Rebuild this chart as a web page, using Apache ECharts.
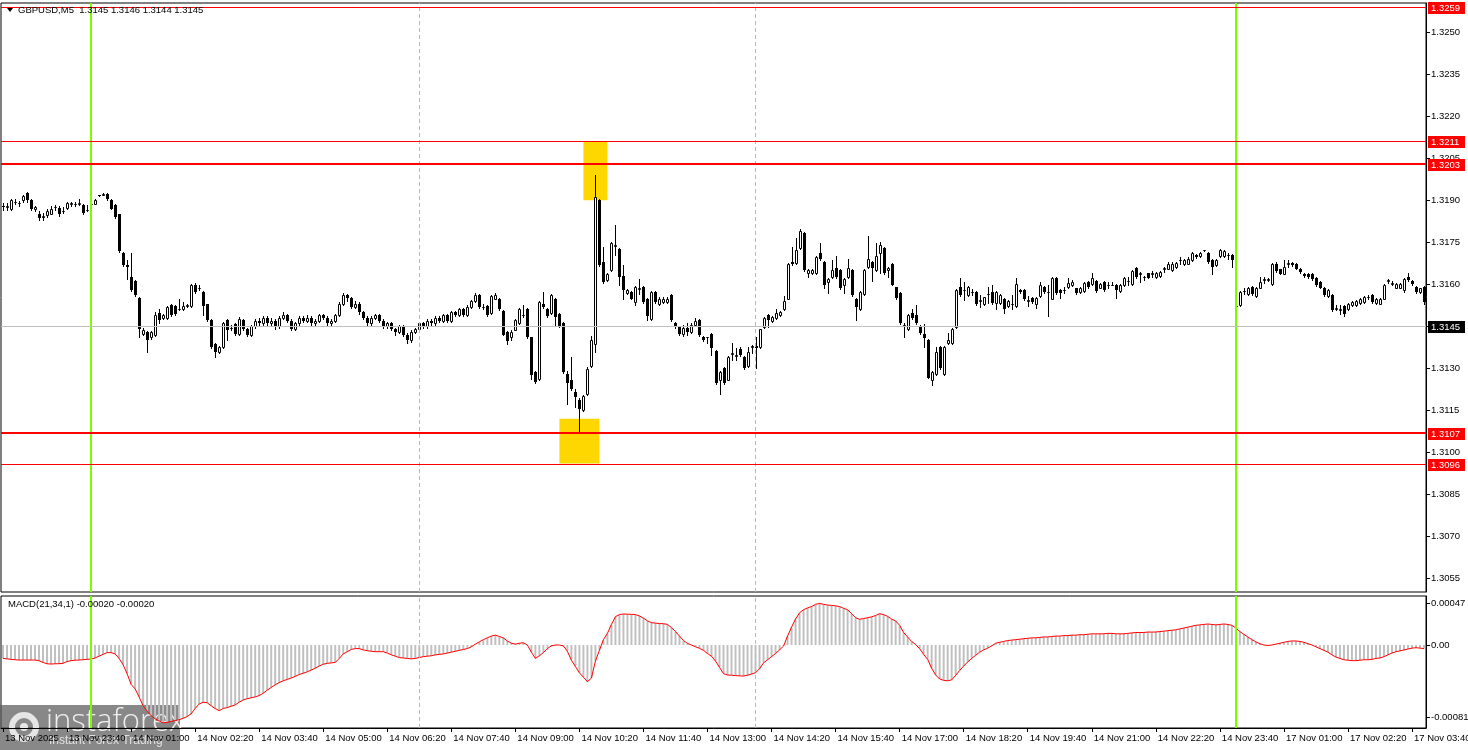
<!DOCTYPE html>
<html><head><meta charset="utf-8">
<script src="https://cdn.jsdelivr.net/npm/echarts@6/dist/echarts.min.js"></script>
<style>html,body{margin:0;padding:0;background:#fff}#c{width:1468px;height:750px}</style>
</head><body><div id="c"></div><script>
// GBPUSD M5 candles, fractional part in 1/10000 units above 1.0000 (3188 => 1.3188)
const OPEN = [
3188,3187.5,3187,3189.5,3189,3190,3192.5,3190,3187,3185.2,
3184,3184.6,3185.2,3187.5,3187.3,3186,3187.2,3188.5,3188.5,3188.6,
3188.3,3186.5,3188.5,3188.8,3191.8,3192,3192.2,3190,3188.3,3185,
3171,3167,3162.5,3161,3155.2,3142.3,3143,3141,3141.8,3149.8,
3147.8,3147.8,3152.5,3152.1,3151.3,3151,3152.2,3152.3,3159.8,3158.5,
3157.1,3152.8,3147.1,3138.8,3135.8,3137.6,3147.1,3144.5,3145.9,3142.4,
3147.1,3144.1,3142,3145,3147,3146,3148,3146,3147,3145,
3148,3149,3147,3144,3146,3148,3147,3148,3146,3147,
3149,3148,3146,3147,3149,3153,3156,3155,3152,3153,
3150,3148,3146,3148,3149,3147,3145,3146,3144,3143,
3145,3142,3140,3143,3144,3146,3145,3147,3146,3148,
3147,3149,3147,3150,3149,3151,3149,3152,3154,3156,
3152,3152.1,3149.8,3154.9,3154.9,3150.5,3143,3141,3143.8,3146,
3149,3151,3141,3128.7,3126.3,3153,3151.3,3149.8,3154.9,3149.3,
3146.2,3128,3125.9,3121.5,3118.8,3115,3121,3131,3138.8,3190,
3168,3161.7,3165,3173.8,3172.7,3162.8,3156.9,3157.3,3153.7,3158.4,
3159,3154.9,3147.7,3157.3,3152.9,3153.7,3153.7,3156,3146.2,3144.8,
3142.4,3144.5,3143,3145.5,3147.2,3141.2,3141,3142.4,3136.1,3125.8,
3130.2,3126,3135.2,3134.4,3137,3134.1,3130.8,3137.6,3137.9,3137.7,
3144.8,3149,3147,3147.8,3149,3151,3154.9,3168,3167.7,3172.8,
3178.4,3163.9,3163.9,3163.9,3171,3167.8,3160.9,3162.7,3165.9,3165.1,
3159.9,3162.7,3165.1,3154.9,3151,3156.5,3166.2,3168,3165.1,3171,
3172.8,3165.1,3167.1,3158.9,3157,3145.3,3143.9,3149.8,3149,3145,
3142.2,3140,3126,3127.9,3137.7,3127.9,3138.9,3138.9,3144.8,3159.1,
3157.8,3156.1,3157.2,3157.3,3154.2,3152.9,3156.4,3157.3,3153.2,3153.2,
3154.9,3152.2,3152.8,3152.2,3157.9,3157.9,3154.2,3155,3152.9,3155.8,
3159.1,3157.2,3154.9,3162.1,3157.9,3157.8,3159.1,3159.7,3158.5,3157.3,
3157.7,3160.9,3160,3161.2,3158.8,3160.9,3159.6,3159.7,3159.7,3157.7,
3159.7,3161.1,3160,3165.9,3163.8,3162.7,3163.9,3163.7,3162.6,3162.9,
3165.5,3165.6,3165,3166,3168.5,3167.2,3167.4,3168.6,3170.4,3170,
3172.2,3171.2,3168.8,3166.8,3170,3170,3170.3,3170.4,3152.2,3152.5,
3157.5,3156.5,3159.1,3155.7,3158.8,3161.6,3161.6,3160,3167.4,3165.3,
3163.8,3167.3,3167.6,3167.4,3165.6,3163.8,3163.8,3163.8,3162.4,3160.9,
3158.8,3155.7,3156.1,3151.2,3150.9,3152.2,3151,3152.5,3152.5,3153.4,
3153.7,3155.4,3156.1,3153.4,3153.1,3154.9,3161.3,3160.1,3158.8,3158.8,
3157.8,3162.6,3161.2,3159.1,3157.3,3159.1];
const CLOSE = [
3187.5,3188,3190,3189.5,3189.2,3191.7,3190,3187,3187.5,3183.5,
3184.5,3186.2,3187,3187.5,3185,3186.2,3189,3189,3188.5,3189,
3185.5,3186.5,3188.5,3190,3191.6,3192.2,3190.3,3187,3184,3172,
3166.8,3166,3157.9,3156,3144.2,3143.8,3140,3143,3149,3147.2,
3149,3151.9,3149,3149.5,3151.3,3152.3,3152.6,3159.8,3157.2,3158.5,
3152.1,3147.1,3137.6,3135.8,3137.6,3146,3143.5,3144.5,3142.4,3147.7,
3144.1,3141.8,3145,3147,3146,3148,3146,3147,3145,3148,
3149,3147,3144,3146,3148,3147,3148,3146,3147,3149,
3148,3146,3147,3149,3153,3156,3155,3152,3153,3150,
3148,3146,3148,3149,3147,3145,3146,3144,3143,3145,
3142,3140,3143,3144,3146,3145,3147,3146,3148,3147,
3149,3147,3150,3149,3151,3149,3152,3154,3156,3152,
3152,3148.9,3155.8,3156,3151,3142,3139.6,3143,3147.1,3151,
3149.2,3141,3127.5,3125.1,3153.7,3152,3148.6,3156,3148.3,3145,
3128.7,3124.8,3122.7,3119.8,3115.6,3120,3129.9,3140.2,3191,3166.8,
3160.8,3163.8,3174.8,3174,3162.6,3157.8,3157.8,3154.9,3159,3158.6,
3153.7,3148.6,3157.3,3153.7,3154.9,3154.9,3154.9,3147.1,3144.8,3142.4,
3144.5,3143,3145.5,3147,3141.8,3140,3141,3137.1,3124.8,3128.8,
3124.8,3134.1,3135.4,3134.6,3134.7,3130,3135.9,3137.8,3137.1,3143.9,
3147.8,3147.2,3148.2,3149.8,3150.2,3154,3167.1,3167.1,3172.2,3179,
3165.1,3165.1,3165.1,3169.8,3168.9,3159.9,3162,3165.1,3162.7,3158.7,
3162,3165.9,3156.1,3152,3157.3,3165.1,3168.9,3165.9,3170,3174,
3163.9,3165.9,3159.9,3155,3146,3145.5,3149,3147.8,3146,3142.7,
3140.7,3126.7,3128.8,3135.9,3130,3137.7,3140,3143.9,3157.9,3156.1,
3158,3159.1,3157.4,3152.9,3154.4,3155.3,3156.6,3153.4,3157.3,3156.1,
3151,3154,3153,3160,3157.3,3154.6,3154.4,3153.7,3155,3159.7,
3157.3,3157.4,3162.1,3157,3157,3158,3160.3,3160.9,3157,3158.8,
3160.3,3159.1,3162.1,3157.7,3160,3157.9,3159.8,3159.7,3157.9,3159.7,
3162.1,3161.3,3164.8,3162.7,3164,3162.7,3162.4,3163.9,3164.1,3164.4,
3165.7,3167.4,3167.4,3167.6,3168.7,3168.6,3169.2,3171,3169.8,3171,
3172.2,3168,3166,3168.8,3172.2,3171.9,3170.5,3168.6,3152.4,3157.3,
3157.7,3158.5,3156.5,3158.8,3160.9,3161.8,3161.8,3167.2,3164.8,3163.8,
3166,3167.5,3166.8,3165.6,3164.4,3162.9,3162.6,3162,3159.7,3158.8,
3156.1,3157.9,3150.7,3151.4,3151.1,3149.5,3153.1,3153.7,3154.1,3154.9,
3155.5,3155.6,3153.7,3154.9,3154.9,3159.7,3161.5,3160.3,3160.2,3160.2,
3161.8,3161.4,3160,3157.3,3158.5,3153.7];
const HIGH = [
3189,3189,3190.5,3190.5,3189.8,3192,3193,3190.5,3188,3186,
3185.5,3186.8,3188,3188.3,3188,3187.5,3189.5,3189.3,3189.5,3190.5,
3188.5,3188.3,3188.8,3190.5,3192,3192.5,3192.5,3190.3,3188.5,3185.2,
3171.5,3168.5,3171,3161.4,3155.5,3144.5,3143.3,3143.3,3150,3151.3,
3149.5,3152.3,3153,3152.5,3154.8,3153.5,3153,3160.2,3160.3,3159.6,
3157.5,3153,3147.5,3139,3138,3146.5,3147.7,3145.3,3146.3,3148.2,
3147.5,3144.5,3145.5,3147.5,3148,3148.5,3148.5,3147.8,3147.5,3148.5,
3150,3149.5,3147.5,3146.5,3148.5,3148.5,3149,3148.5,3147.5,3149.5,
3149.5,3148.5,3147.5,3149.5,3153.5,3157,3156.5,3155.5,3154,3153.5,
3150.5,3148.5,3148.5,3149.5,3149.5,3147.5,3146.5,3146.5,3144.5,3145.5,
3145.5,3142.5,3143.5,3144.5,3146.5,3146.5,3147.5,3147.5,3148.5,3148.5,
3149.5,3149.5,3150.5,3150.5,3151.5,3151.5,3152.5,3154.5,3157,3156.5,
3152.8,3152.5,3156.2,3156.8,3155.2,3150.8,3143.3,3143.5,3147.5,3151.4,
3152.5,3151.4,3141.2,3129,3154,3157.3,3151.6,3156.5,3155.2,3149.6,
3146.5,3129.2,3134,3122.7,3119.5,3120.5,3130.3,3141.5,3199,3190.5,
3173.3,3164.2,3175.2,3181,3173.1,3166.8,3158.3,3157.6,3159.4,3162,
3159.4,3155.2,3157.7,3157.7,3155.3,3155.3,3155.3,3156.4,3146.5,3145.2,
3145.5,3146,3146,3148,3147.5,3141.6,3141.3,3142.7,3136.4,3129.2,
3130.5,3134.5,3138.9,3137.1,3137.6,3134.4,3137.7,3138.3,3141.2,3144.2,
3148.2,3149.3,3148.6,3151,3150.6,3155.8,3167.5,3173.4,3176.4,3179.9,
3178.8,3165.5,3165.5,3170.2,3174.8,3168.2,3162.4,3168.6,3170,3165.5,
3162.4,3168.9,3165.5,3155.2,3157.7,3165.5,3177.2,3168.4,3174.8,3175.2,
3173.2,3166.3,3167.5,3159.2,3157.3,3146,3149.4,3151,3152.5,3145.4,
3145.8,3140.4,3129.2,3137.7,3138,3138,3142.7,3144.3,3158.3,3162.1,
3160.9,3159.5,3158.2,3157.6,3156.1,3155.6,3159.1,3159.7,3157.6,3156.5,
3155.2,3154.4,3156.1,3162.1,3158.3,3158.2,3155.8,3155.3,3155.3,3160.9,
3159.5,3159.7,3162.5,3162.5,3158.2,3159.1,3162.1,3161.5,3158.8,3159.2,
3160.7,3161.3,3164.1,3161.6,3160.4,3161.3,3160.9,3160.9,3160,3160.1,
3162.7,3162.7,3165.2,3166.3,3164.5,3163,3164.2,3164.8,3164.5,3164.8,
3166.2,3167.8,3167.8,3168,3169.8,3169,3169.6,3171.6,3170.8,3171.4,
3172.4,3171.6,3169.1,3169.2,3172.6,3172.3,3171,3170.8,3152.6,3157.7,
3158.5,3158.9,3159.4,3159.2,3162.6,3162.6,3162.4,3167.6,3167.8,3165.6,
3168.8,3168.8,3167.9,3167.7,3165.9,3164.1,3164.1,3164.1,3162.7,3161.2,
3159.1,3158.2,3156.4,3152.5,3152.5,3152.5,3153.4,3154,3154.4,3155.2,
3155.8,3156.2,3156.4,3155.2,3155.2,3160,3162,3161,3160.5,3160.5,
3162.3,3164,3161.5,3159.4,3158.8,3159.4];
const LOW = [
3186.5,3186.5,3186.5,3188.5,3188,3189.5,3189.5,3186.5,3186,3183,
3183,3184.2,3185,3186.5,3184.5,3185.5,3187,3188,3188,3188.3,
3185,3186,3188.2,3188.5,3191.5,3191.8,3190,3186.8,3183.5,3171.5,
3166.5,3162,3157.5,3155.8,3141.2,3142,3135.8,3140.5,3141.5,3146,
3147.5,3147.5,3148.5,3149.2,3150.7,3150.8,3152,3152,3157,3157.8,
3149,3147,3137.3,3134,3135.5,3137.3,3140.1,3143.8,3142,3142,
3143.8,3141.5,3141.5,3144.5,3145.5,3145.5,3145,3145.5,3144,3144.5,
3147.5,3146.5,3143.5,3143.5,3145.5,3146.5,3146.5,3145.5,3145.5,3146.5,
3147.5,3145.5,3145.5,3146.5,3148.5,3152.5,3154,3151.5,3151.5,3149.5,
3147.5,3145.5,3145.5,3147.5,3146.5,3144.5,3144.5,3143.5,3142,3142.5,
3141.5,3139,3139.5,3142.5,3143.5,3144.5,3144.5,3145.5,3145.5,3146.5,
3146.5,3146.5,3146.5,3148.5,3148.5,3148.5,3148.5,3151.5,3153.5,3151.5,
3151.3,3148.6,3149.5,3154.6,3150.8,3141.8,3138.8,3140,3143.5,3145.8,
3148.3,3140.8,3126.3,3124.8,3125.8,3151.6,3148.3,3149.5,3145.4,3144.6,
3128.3,3117.4,3122.4,3116.2,3107,3114.6,3120.6,3130.6,3135.8,3166.4,
3160.4,3161.3,3164.6,3170.4,3159.6,3154.9,3156.5,3154.6,3152.5,3156.6,
3153.4,3147.1,3147.4,3153.4,3152.6,3153.4,3153.4,3146.8,3144.5,3142,
3141.5,3142,3142.5,3145,3141.5,3139.7,3139,3134.7,3124.5,3121,
3124.5,3125.7,3133,3133,3134.3,3129.7,3130.5,3135.5,3130,3137.4,
3144.5,3144.8,3146.7,3147.5,3148.7,3150.7,3154.6,3166.8,3167.4,3172.5,
3164.8,3162.7,3163.6,3163.6,3168.6,3158.7,3157,3162.4,3162.4,3158.4,
3157,3162.4,3155.8,3147.2,3150.7,3156.2,3165.9,3161.1,3164.8,3163.9,
3163.6,3162.7,3159.6,3154.7,3145.7,3141.2,3143.6,3147.5,3145.7,3142.4,
3137.7,3126.4,3124,3127.6,3129.7,3127.6,3138.6,3138.6,3144.5,3155.8,
3154.3,3155.8,3156,3152.6,3152,3152.6,3153.4,3153.1,3151,3152.9,
3149.8,3151.9,3151,3151.9,3157,3154.3,3152.2,3153.4,3151.7,3155.5,
3157,3148.6,3154.6,3156.7,3155,3157,3158.8,3159.4,3156.7,3157,
3157.4,3158.8,3159.7,3157.4,3158.5,3157.6,3158.5,3159.6,3155,3157.4,
3159.4,3159.7,3159.7,3162.4,3160.9,3161.5,3162.1,3162.7,3162.3,3162.6,
3164.4,3165.3,3164.7,3165.7,3167.4,3166.9,3167.1,3168.3,3169.5,3169.7,
3172,3167.7,3163.8,3166.5,3169.7,3169.7,3169.2,3166,3152,3152.2,
3156.6,3156.2,3156.2,3155.4,3158.5,3160.3,3161,3159.7,3164.5,3163.5,
3163.5,3166.2,3166.5,3165.3,3164,3162.6,3162.3,3161.7,3159.4,3158.5,
3155.8,3155.4,3150.4,3150.7,3149.5,3148.6,3150.7,3152.2,3152.2,3153.1,
3153.4,3154.8,3153.4,3153.1,3152.8,3154.6,3160.3,3159.6,3158.5,3158.5,
3157.3,3161.1,3159.7,3157,3157,3152.9];
// MACD(21,34,1) main value per bar, in units of 0.00001
const MACD = [
-15,-15.5,-16,-16.5,-16.8,-16.8,-16.8,-16.8,-16.8,-17.5,
-19.5,-21,-21.3,-21,-20.9,-20.5,-18.5,-17.5,-17,-16.8,
-16.5,-16,-15.7,-14.5,-12.5,-10.5,-8.5,-8.5,-10,-15,
-22,-32,-44,-49,-58,-68,-74,-79,-82.5,-85,
-87,-86.5,-85.5,-84.5,-83.5,-82,-80,-77,-71,-66,
-64,-64.5,-68,-71,-73.5,-71,-70,-68.5,-67,-64,
-61.5,-60,-59,-58,-56.5,-54,-50.5,-47.5,-44.5,-42,
-40,-38.5,-37,-35,-33,-31.5,-30,-28,-26,-23.5,
-21.5,-20.5,-20,-19.5,-15,-10,-7.5,-5,-4,-4,
-5.5,-6.3,-7,-7.5,-7.5,-7.5,-9,-11,-12.5,-14,
-14.5,-15,-15.5,-15,-14,-13,-12.5,-12,-11,-10.5,
-10,-9,-8,-7,-6,-5,-4,-2,1,3.5,
6,8,10,11,9.5,8,4.5,2,1,2,
2.5,0,-8,-15,-12,-8.5,-4,-1,0,0,
-1,-7,-17,-24,-31,-36,-41,-37,-18,-6,
6,13,23,31.7,34,34.7,34.5,34.3,34,32.5,
30,27,25,24.5,24,23.8,23,19.5,15,10,
5,1.8,0,-2,-3.7,-6,-9.5,-12.5,-18,-25,
-32,-33.5,-33.8,-34.2,-34.5,-34.7,-33.8,-32.5,-31,-26.5,
-20,-16.5,-13,-9.5,-5.5,-1.1,10,20,29,36,
39.5,41.5,43,45.5,46.5,45.5,44.7,44.3,43.8,43,
41,39.5,35,30.5,28.7,29.6,30.5,31.5,33,35,
34,32,29,27,22,14,9,4,0.5,-4,
-10.5,-16,-26,-33.5,-38,-39.5,-40,-39,-34,-28.5,
-23.5,-19,-15,-11.5,-8,-5.5,-3.5,-1,2,3,
4,5,5.5,6,6.5,7,7.5,8,8,8.5,
9,9,9.5,10,10,10.5,10.5,11,11,11.5,
11.5,12,12.5,12.5,12.5,12.5,13,13,12.5,12.5,
12.5,13,13.5,14,14,14,14.5,14.5,14.5,15,
15.5,16,16.5,17,18,19,20,21,22,22.5,
23,23.5,23,22.5,23,23.5,23,22,19,15,
12,9,6,3.5,1.5,0,-0.5,0,1,2,
3,4,4.5,4.5,4,3,1.5,0,-2,-4,
-6,-8,-11,-13.5,-15,-16.5,-17,-17.5,-17.5,-17,
-16.5,-16.5,-16,-15,-14.5,-13,-11,-9,-7.5,-6.5,
-5.5,-4.5,-3.5,-3,-3.5,-4];
const TIME_LABELS = ['13 Nov 2025','13 Nov 23:40','14 Nov 01:00','14 Nov 02:20','14 Nov 03:40','14 Nov 05:00','14 Nov 06:20','14 Nov 07:40','14 Nov 09:00','14 Nov 10:20','14 Nov 11:40','14 Nov 13:00','14 Nov 14:20','14 Nov 15:40','14 Nov 17:00','14 Nov 18:20','14 Nov 19:40','14 Nov 21:00','14 Nov 22:20','14 Nov 23:40','17 Nov 01:00','17 Nov 02:20','17 Nov 03:40'];
const PRICE_TICKS = [1.3055,1.3070,1.3085,1.3100,1.3115,1.3130,1.3145,1.3160,1.3175,1.3190,1.3205,1.3220,1.3235,1.3250];
const MACD_TICKS = [0.00047, 0, -0.00081];
const LEVELS = [1.3259, 1.3211, 1.3203, 1.3107, 1.3096, 1.3145];
const SOLID_VLINES = [22, 308];
const DASHED_VLINES = [104, 188];
// yellow zones: [fromBar, toBar, lowPrice, highPrice]
const ZONES = [[145, 151, 1.3190, 1.3211], [139, 149, 1.3096, 1.3112]];
const TITLE = 'GBPUSD,M5  1.3145 1.3146 1.3144 1.3145';
const MACD_TITLE = 'MACD(21,34,1) -0.00020 -0.00020';

// styles (kept apart from data)
const LEVEL_STYLE = [
  {line: '#ff0000', width: 1, box: '#ff0000'},
  {line: '#ff0000', width: 1, box: '#ff0000'},
  {line: '#ff0000', width: 2, box: '#ff0000'},
  {line: '#ff0000', width: 2, box: '#ff0000'},
  {line: '#ff0000', width: 1, box: '#ff0000'},
  {line: '#c0c0c0', width: 1, box: '#000000'}
];
const FONT = '"Liberation Sans", Arial, sans-serif';
const FS = 9.5;
const cats = OPEN.map((_, i) => String(i));
const toP = v => +(1 + v / 10000).toFixed(5);
const candleData = OPEN.map((o, i) => [i, toP(o), toP(CLOSE[i]), toP(LOW[i]), toP(HIGH[i])]);
const macd = MACD.map(v => +(v * 1e-5).toFixed(7));
const isLabel = i => i % 16 === 0;

function renderCandle(params, api) {
  const i = api.value(0), o = api.value(1), c = api.value(2), lo = api.value(3), hi = api.value(4);
  const pO = api.coord([i, o]), pC = api.coord([i, c]), pL = api.coord([i, lo]), pH = api.coord([i, hi]);
  const x0 = Math.round(pO[0]);
  const top = Math.round(Math.min(pO[1], pC[1])), bot = Math.round(Math.max(pO[1], pC[1]));
  const yH = Math.round(pH[1]), yL = Math.round(pL[1]);
  const children = [{type: 'rect', shape: {x: x0, y: yH, width: 1, height: Math.max(yL - yH + 1, 1)}, style: {fill: '#000'}}];
  if (c >= o) {
    children.push({type: 'rect', shape: {x: x0 - 0.5, y: top + 0.5, width: 2, height: Math.max(bot - top, 0)}, style: {fill: '#fff', stroke: '#000', lineWidth: 1}});
  } else {
    children.push({type: 'rect', shape: {x: x0 - 1, y: top, width: 3, height: Math.max(bot - top, 1)}, style: {fill: '#000'}});
  }
  return {type: 'group', children};
}

function renderLevel(params, api) {
  const v = api.value(0);
  const cs = params.coordSys;
  const st = LEVEL_STYLE[params.dataIndex];
  const yr = Math.round(api.coord([0, v])[1]);
  const right = cs.x + cs.width;
  return {type: 'group', children: [
    {type: 'rect', shape: {x: cs.x, y: yr - (st.width === 2 ? 1 : 0), width: cs.width, height: st.width}, style: {fill: st.line}},
    {type: 'rect', shape: {x: right + 2, y: yr - 5, width: 37, height: 12}, style: {fill: st.box}},
    {type: 'text', x: right + 5, y: yr + 1, style: {text: v.toFixed(4), fill: '#fff', font: FS + 'px ' + FONT, verticalAlign: 'middle'}}
  ]};
}

const vlines = SOLID_VLINES.map(i => ({xAxis: String(i), lineStyle: {color: '#7CFC00', width: 2, type: 'solid'}}))
  .concat(DASHED_VLINES.map(i => ({xAxis: String(i), lineStyle: {color: '#7CFC00', width: 1, type: [4, 3]}})));

const chart = echarts.init(document.getElementById('c'), null, {renderer: 'canvas'});
chart.setOption({
  animation: false,
  backgroundColor: '#fff',
  textStyle: {fontFamily: FONT},
  grid: [
    {left: 1, right: 42, top: 3, height: 589, show: true, borderColor: '#000', borderWidth: 1, backgroundColor: '#fff', containLabel: false, outerBoundsMode: 'none'},
    {left: 1, right: 42, top: 596, height: 132, show: true, borderColor: '#000', borderWidth: 1, backgroundColor: '#fff', containLabel: false, outerBoundsMode: 'none'}
  ],
  xAxis: [
    {gridIndex: 0, type: 'category', data: cats, boundaryGap: true, axisLine: {show: false}, axisTick: {show: false}, axisLabel: {show: false}, splitLine: {show: false}},
    {gridIndex: 1, type: 'category', data: cats, boundaryGap: true,
      axisLine: {show: true, onZero: false, lineStyle: {color: '#000'}},
      axisTick: {show: true, alignWithLabel: true, interval: isLabel, length: 4, lineStyle: {color: '#000'}},
      axisLabel: {interval: isLabel, formatter: (v, i) => TIME_LABELS[i / 16] || '', align: 'left', margin: 5, fontSize: FS, color: '#000', fontFamily: FONT, padding: [0, 0, 0, 2]},
      splitLine: {show: false}}
  ],
  yAxis: [
    {gridIndex: 0, type: 'value', position: 'right', min: 1.305011, max: 1.326046, splitLine: {show: false},
      axisLine: {show: true, lineStyle: {color: '#000'}},
      axisTick: {show: true, length: 4, customValues: PRICE_TICKS, lineStyle: {color: '#000'}},
      axisLabel: {customValues: PRICE_TICKS, formatter: v => v.toFixed(4), color: '#000', fontSize: FS, fontFamily: FONT, margin: 5}},
    {gridIndex: 1, type: 'value', position: 'right', min: -0.000928, max: 0.000548, splitLine: {show: false},
      axisLine: {show: true, lineStyle: {color: '#000'}},
      axisTick: {show: true, length: 4, customValues: MACD_TICKS, lineStyle: {color: '#000'}},
      axisLabel: {customValues: MACD_TICKS, formatter: v => (Math.abs(v) < 1e-9 ? '0.00' : v.toFixed(5)), color: '#000', fontSize: FS, fontFamily: FONT, margin: 5}}
  ],
  series: [
    {type: 'line', xAxisIndex: 0, yAxisIndex: 0, data: [], z: 1, silent: true,
      markArea: {silent: true, itemStyle: {color: '#FFD700'}, data: ZONES.map(z => [{xAxis: String(z[0]), yAxis: z[3]}, {xAxis: String(z[1]), yAxis: z[2]}])}},
    {type: 'custom', xAxisIndex: 0, yAxisIndex: 0, data: candleData, z: 3, silent: true, clip: true,
      encode: {x: 0, y: [1, 2, 3, 4]}, renderItem: renderCandle},
    {type: 'line', xAxisIndex: 0, yAxisIndex: 0, data: [], z: 5, silent: true,
      markLine: {silent: true, precision: 6, symbol: ['none', 'none'], animation: false, label: {show: false}, data: vlines}},
    {type: 'custom', xAxisIndex: 0, yAxisIndex: 0, data: LEVELS.map(v => [v]), z: 6, silent: true, clip: false,
      encode: {y: 0}, renderItem: renderLevel},
    {type: 'bar', xAxisIndex: 1, yAxisIndex: 1, data: macd, barWidth: 2, z: 2, itemStyle: {color: '#c0c0c0'}, silent: true},
    {type: 'line', xAxisIndex: 1, yAxisIndex: 1, data: macd, z: 4, symbol: 'none', silent: true, lineStyle: {color: '#ff0000', width: 1}},
    {type: 'line', xAxisIndex: 1, yAxisIndex: 1, data: [], z: 5, silent: true,
      markLine: {silent: true, precision: 8, symbol: ['none', 'none'], animation: false, label: {show: false}, data: vlines}}
  ],
  graphic: [
    {type: 'polygon', shape: {points: [[7, 8], [13, 8], [10, 12]]}, style: {fill: '#000'}, z: 100},
    {type: 'text', x: 18, y: 10, style: {text: TITLE, fill: '#000', font: FS + 'px ' + FONT, textVerticalAlign: 'middle'}, z: 100},
    {type: 'text', x: 8, y: 604, style: {text: MACD_TITLE, fill: '#000', font: FS + 'px ' + FONT, textVerticalAlign: 'middle'}, z: 100},
    {type: 'group', z: 100, children: [
      {type: 'rect', shape: {x: 0, y: 705, width: 180, height: 45}, style: {fill: 'rgba(90,90,90,0.72)'}},
      {type: 'circle', shape: {cx: 24, cy: 727, r: 12}, style: {fill: 'none', stroke: '#e6e6e6', lineWidth: 6}},
      {type: 'circle', shape: {cx: 24, cy: 727, r: 4}, style: {fill: '#e6e6e6'}},
      {type: 'text', x: 46, y: 722, style: {text: 'instaforex', fill: '#eeeeee', font: '300 31px "Open Sans", sans-serif', textVerticalAlign: 'middle'}},
      {type: 'text', x: 49, y: 741, style: {text: 'Instant Forex Trading', fill: '#e0e0e0', font: '12px "Liberation Sans", sans-serif', textVerticalAlign: 'middle'}}
    ]}
  ]
});
</script></body></html>
